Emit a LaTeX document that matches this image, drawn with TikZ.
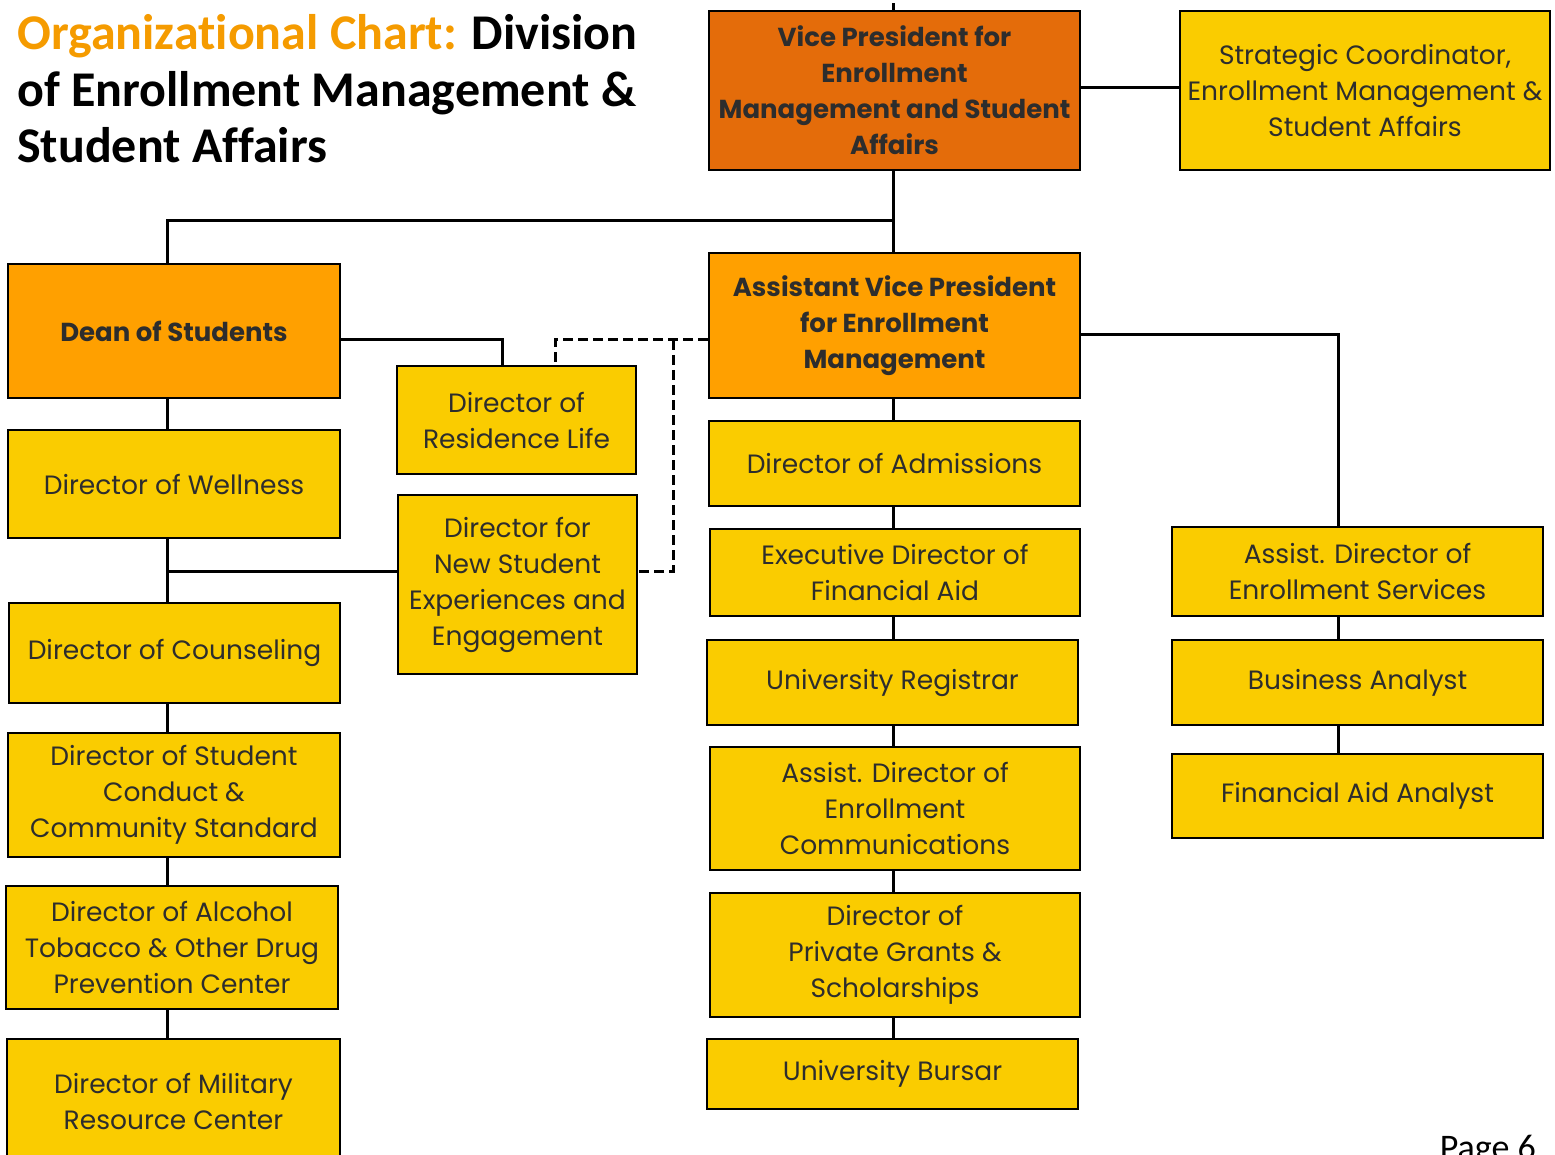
\documentclass[tikz,border=0pt]{standalone}
\usepackage{fontspec}
\setmainfont{Poppins}
\newfontfamily\titlefont[Ligatures={NoCommon}]{Carlito}
\usetikzlibrary{calc}
\definecolor{UnitYellow}{RGB}{250,204,0}
\definecolor{HeadOrange}{RGB}{255,160,0}
\definecolor{VPOrange}{RGB}{228,108,10}
\definecolor{TitleOrange}{RGB}{245,155,0}
\definecolor{UnitText}{RGB}{45,45,45}
\tikzset{
  unit/.style={draw=black, line width=2.5pt, fill=UnitYellow, text=UnitText, align=center,
    inner sep=0pt, font=\fontsize{26.5}{36}\selectfont},
  head/.style={unit, fill=HeadOrange, font=\bfseries\fontsize{26}{36}\selectfont},
  link/.style={line width=3pt},
  dashline/.style={line width=3pt, dash pattern=on 10pt off 5pt}
}

\begin{document}
\begin{tikzpicture}[x=1pt, y=-1pt]

    \useasboundingbox (0,0) rectangle (1555,1155);

    % Title
    \node[anchor=base west, align=left, inner sep=0pt, font=\titlefont\bfseries\fontsize{50}{56.5}\selectfont] (title) at (17,163)
    {\textcolor{TitleOrange}{Organizational Chart:} Division\\of Enrollment Management \&\\Student Affairs};

    % Spines of the three columns
    \coordinate (leftSpine) at (167,0);
    \coordinate (midSpine) at (893,0);
    \coordinate (rightSpine) at (1338,0);

    % ---------- Top
    \node[head, fill=VPOrange, minimum width=371, minimum height=159] (vp) at (894.5,90.5)
    {Vice President for\\Enrollment\\Management and Student\\Affairs};
    \node[unit, minimum width=370, minimum height=159] (coordinator) at (1365,90.5)
    {Strategic Coordinator,\\Enrollment Management \&\\Student Affairs};

    % ---------- Dean of Students column
    \node[head, minimum width=332, minimum height=134] (dean) at (174,331) {Dean of Students};
    \node[unit, minimum width=332, minimum height=108] (wellness) at (174,484) {Director of Wellness};
    \node[unit, minimum width=331, minimum height=100] (counseling) at (174.5,653) {Director of Counseling};
    \node[unit, minimum width=332, minimum height=124] (conduct) at (174,795)
    {Director of Student\\Conduct \&\\Community Standard};
    \node[unit, minimum width=332, minimum height=123] (alcohol) at (172,947.5)
    {Director of Alcohol\\Tobacco \& Other Drug\\Prevention Center};
    \node[unit, minimum width=333, minimum height=124] (military) at (173.5,1101)
    {Director of Military\\Resource Center};

    % ---------- Residence and new students
    \node[unit, minimum width=239, minimum height=108] (resLife) at (516.5,420)
    {Director of\\Residence Life};
    \node[unit, minimum width=239, minimum height=179] (newStudent) at (517.5,584.5)
    {Director for\\New Student\\Experiences and\\Engagement};

    % ---------- Assistant Vice President column
    \node[head, minimum width=371, minimum height=145] (avp) at (894.5,325.5)
    {Assistant Vice President\\for Enrollment\\Management};
    \node[unit, minimum width=371, minimum height=85] (admissions) at (894.5,463.5) {Director of Admissions};
    \node[unit, minimum width=370, minimum height=87] (finAid) at (895,572.5)
    {Executive Director of\\Financial Aid};
    \node[unit, minimum width=371, minimum height=85] (registrar) at (892.5,682.5) {University Registrar};
    \node[unit, minimum width=370, minimum height=123] (communications) at (895,808.5)
    {Assist. Director of\\Enrollment\\Communications};
    \node[unit, minimum width=370, minimum height=124] (grants) at (895,955)
    {Director of\\Private Grants \&\\Scholarships};
    \node[unit, minimum width=371, minimum height=70] (bursar) at (892.5,1074) {University Bursar};

    % ---------- Enrollment services column
    \node[unit, minimum width=371, minimum height=89] (services) at (1357.5,571.5)
    {Assist. Director of\\Enrollment Services};
    \node[unit, minimum width=371, minimum height=85] (business) at (1357.5,682.5) {Business Analyst};
    \node[unit, minimum width=371, minimum height=84] (aidAnalyst) at (1357.5,796) {Financial Aid Analyst};

    \node[anchor=base east, inner sep=0pt, font=\titlefont\fontsize{36}{40}\selectfont] (page) at (1536,1159) {Page 6};

    % ---------- Connectors
    \coordinate (vpTop) at (893,3);
    \coordinate (branch) at (893,221);
    \coordinate (coordRow) at (0,88);
    \coordinate (deanRow) at (0,340);
    \coordinate (avpRow) at (0,335);
    \coordinate (resTurn) at (502,0);
    \coordinate (resDash) at (555,0);
    \coordinate (dashTurn) at (673,340);
    \coordinate (newRow) at (0,571);

    \draw[link] (vp.north -| midSpine) -- (vpTop);
    \draw[link] (vp.east |- coordRow) -- (coordinator.west |- coordRow);
    \draw[link] (vp.south -| midSpine) -- (avp.north -| midSpine);
    \draw[link] (branch) -| (dean.north -| leftSpine);

    % Dean of Students line
    \draw[link] (dean.south -| leftSpine) -- (wellness.north -| leftSpine);
    \draw[link] (wellness.south -| leftSpine) -- (counseling.north -| leftSpine);
    \draw[link] (counseling.south -| leftSpine) -- (conduct.north -| leftSpine);
    \draw[link] (conduct.south -| leftSpine) -- (alcohol.north -| leftSpine);
    \draw[link] (alcohol.south -| leftSpine) -- (military.north -| leftSpine);
    \draw[link] (dean.east |- deanRow) -| (resLife.north -| resTurn);
    \draw[link] (leftSpine |- newRow) -- (newStudent.west |- newRow);

    % Dashed lines to the AVP
    \draw[dashline] (avp.west |- dashTurn) -| (resLife.north -| resDash);
    \draw[dashline] (dashTurn) |- (newStudent.east |- newRow);

    % AVP line
    \draw[link] (avp.south -| midSpine) -- (admissions.north -| midSpine);
    \draw[link] (admissions.south -| midSpine) -- (finAid.north -| midSpine);
    \draw[link] (finAid.south -| midSpine) -- (registrar.north -| midSpine);
    \draw[link] (registrar.south -| midSpine) -- (communications.north -| midSpine);
    \draw[link] (communications.south -| midSpine) -- (grants.north -| midSpine);
    \draw[link] (grants.south -| midSpine) -- (bursar.north -| midSpine);

    % Enrollment services line
    \draw[link] (avp.east |- avpRow) -| (services.north -| rightSpine);
    \draw[link] (services.south -| rightSpine) -- (business.north -| rightSpine);
    \draw[link] (business.south -| rightSpine) -- (aidAnalyst.north -| rightSpine);

\end{tikzpicture}
\end{document}
